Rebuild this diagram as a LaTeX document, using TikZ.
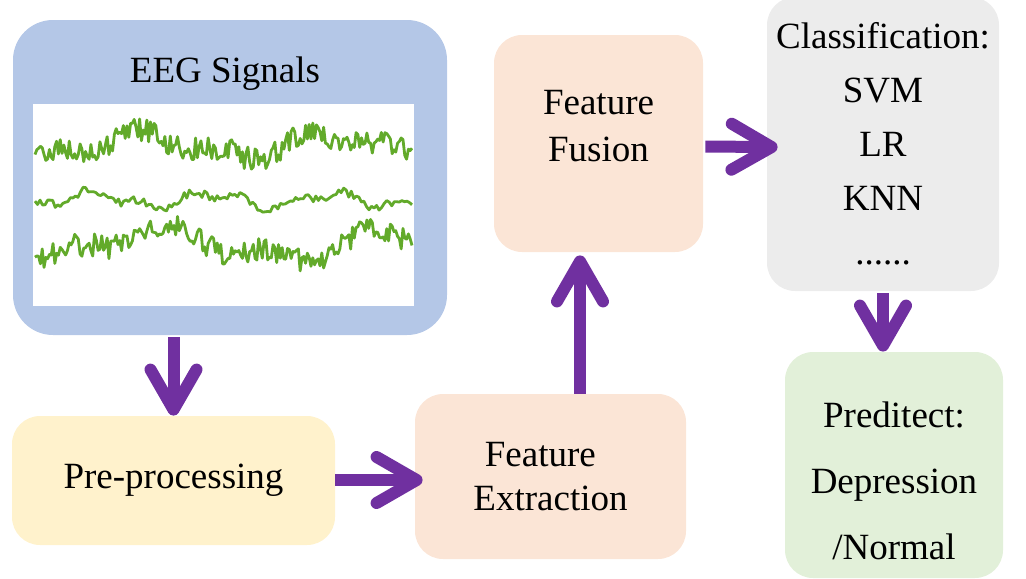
\documentclass[tikz,border=0pt]{standalone}
\usepackage{fontspec}
\setmainfont{Liberation Serif}
\usetikzlibrary{arrows.meta}

\definecolor{eegblue}{RGB}{180,199,231}
\definecolor{preyellow}{RGB}{255,242,204}
\definecolor{featpeach}{RGB}{251,229,214}
\definecolor{clsgray}{RGB}{236,236,236}
\definecolor{predgreen}{RGB}{226,240,217}
\definecolor{flowpurple}{RGB}{112,48,160}
\definecolor{wavegreen}{RGB}{98,170,42}

\begin{document}
\begin{tikzpicture}[x=0.5pt, y=-0.5pt,
    box/.style={rounded corners=14pt, inner sep=0pt, align=center,
      font=\fontsize{18.5}{22}\selectfont},
    flow/.style={draw=flowpurple, line width=6pt,
      -{Straight Barb[length=20pt, width=23pt, round]}},
    wave/.style={wavegreen, line width=1.4pt, line join=round}]
  \useasboundingbox (0,0) rectangle (1026,578);

  % boxes
  \node[box, rounded corners=20pt, fill=eegblue, minimum width=217pt, minimum height=157.5pt] (eeg) at (230,177.5) {};
  \node[fill=white, inner sep=0pt, minimum width=190.5pt, minimum height=101pt] (sig) at (223.5,205) {};
  \node[anchor=base, font=\fontsize{18.5}{22}\selectfont] (eegtitle) at (225,82) {EEG Signals};
  \node[box, fill=preyellow, minimum width=161.5pt, minimum height=64.5pt] (pre) at (173.5,480.5) {Pre-processing};
  \node[box, fill=featpeach, minimum width=135.5pt, minimum height=82.5pt] (ext) at (550.5,476.5) {Feature\hspace*{0.55em}\\Extraction};
  \node[box, fill=featpeach, minimum width=104.5pt, minimum height=108.5pt,
    label={[name=fusiontxt, align=center, yshift=8.5pt, font=\fontsize{18.5}{23.5}\selectfont]center:Feature\\Fusion}] (fusion) at (598.5,143.5) {};
  \node[box, fill=clsgray, minimum width=116pt, minimum height=147pt,
    font=\fontsize{18.5}{27}\selectfont] (cls) at (883,144) {Classification:\\SVM\\LR\\KNN\\......};
  \node[box, fill=predgreen, minimum width=109pt, minimum height=113pt,
    label={[name=predtxt, align=center, yshift=-8pt, font=\fontsize{18.5}{33}\selectfont]center:Preditect:\\Depression\\/Normal}] (pred) at (894,465) {};

  % eeg traces
  \pgfmathsetseed{11}
  \draw[wave] plot[domain=35:412, samples=210] (\x, {146+10*sin(1.9*\x)+6*sin(4.3*\x+40)+12*rand});
  \draw[wave] plot[domain=35:412, samples=150] (\x, {200+6*sin(3*\x)+4*sin(7*\x+20)+4*rand});
  \draw[wave] plot[domain=35:412, samples=210] (\x, {245+13*sin(1.5*\x+30)+7*sin(3.7*\x)+12*rand});

  % arrows
  \draw[flow] (pre.north |- eeg.south) ++(0,2) -- (pre.north);
  \draw[flow, shorten >=-4pt] (pre.east |- 0,480) -- (ext.west |- 0,480);
  \draw[flow, shorten >=1.5pt] ([xshift=14.75pt]ext.north) -- ([xshift=14.75pt]ext.north |- fusion.south);
  \draw[flow, shorten >=-5.5pt] ([yshift=-1.5pt]fusion.east) ++(2,0) -- ([yshift=-1.5pt]cls.west);
  \draw[flow] (cls.south) ++(0,2) -- (cls.south |- pred.north);
\end{tikzpicture}
\end{document}
